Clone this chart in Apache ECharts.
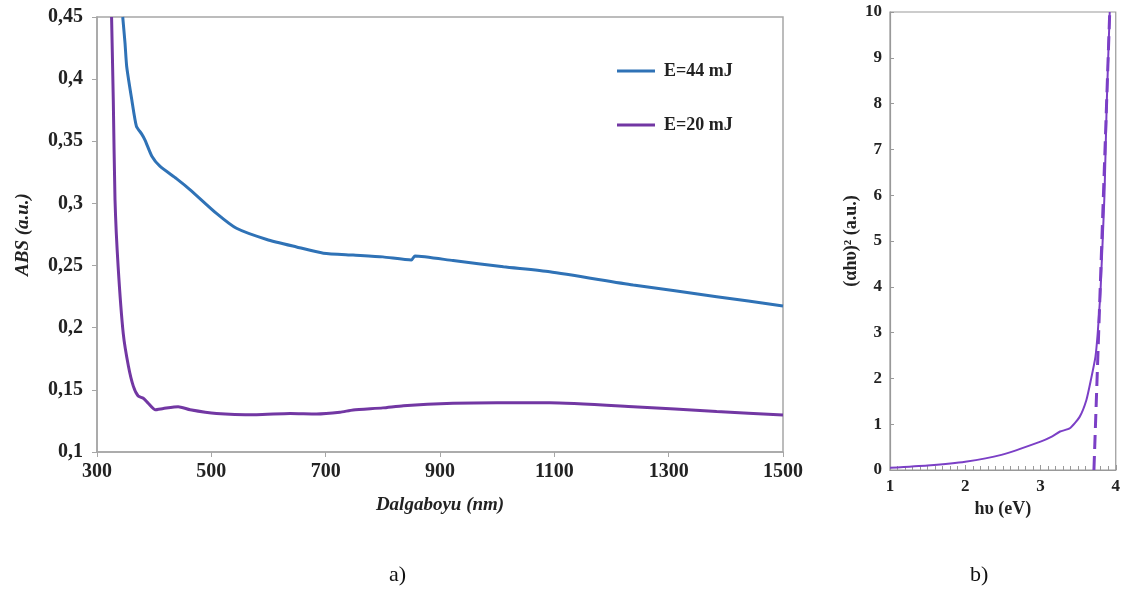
<!DOCTYPE html>
<html>
<head>
<meta charset="utf-8">
<script src="https://cdn.jsdelivr.net/npm/echarts@6/dist/echarts.min.js"></script>
<style>
  html, body { margin: 0; padding: 0; background: #fff; }
  #chart { width: 1123px; height: 594px; }
</style>
</head>
<body>
<div id="chart"></div>
<script>
// a) absorbance vs wavelength
const e44Nm = [345, 349, 352, 361, 369, 378, 384, 396, 410, 439, 463, 509, 544, 597, 649, 696, 748, 800, 850, 856, 923, 1011, 1092, 1238, 1384, 1500]
const e44Abs = [0.45, 0.429, 0.41, 0.383, 0.362, 0.356, 0.351, 0.338, 0.33, 0.32, 0.311, 0.292, 0.28, 0.271, 0.265, 0.26, 0.2585, 0.257, 0.2545, 0.2577, 0.254, 0.249, 0.245, 0.2344, 0.225, 0.2175]
const e20Nm = [325.5, 328.5, 331.5, 337, 346, 355, 363.5, 372, 381, 390, 401.5, 416, 442, 463, 509, 579, 638, 684, 725, 748, 800, 836, 923, 1000, 1092, 1238, 1384, 1500]
const e20Abs = [0.45, 0.383, 0.303, 0.249, 0.195, 0.169, 0.153, 0.145, 0.1433, 0.139, 0.134, 0.135, 0.1365, 0.134, 0.131, 0.13, 0.131, 0.1306, 0.132, 0.1338, 0.1355, 0.1373, 0.1392, 0.1397, 0.1397, 0.1365, 0.1325, 0.1298]
const seriesNames = ['E=44 mJ', 'E=20 mJ']

// b) Tauc plot
const hvEv = [1.0, 1.5, 2.0, 2.48, 3.0, 3.15, 3.26, 3.39, 3.52, 3.61, 3.67, 3.73, 3.76, 3.79, 3.8, 3.85, 3.88, 3.92]
const ahv2 = [0.05, 0.1, 0.18, 0.33, 0.62, 0.73, 0.84, 0.91, 1.16, 1.53, 1.97, 2.47, 2.98, 3.71, 4, 6, 8, 10]
const fitEv = [3.71, 3.92]
const fitVal = [0, 10]

const zip = (xs, ys) => xs.map((x, i) => [x, ys[i]])

const serif = '"Liberation Serif", "Times New Roman", serif'
const axisGray = '#a6a6a6'
const blue = '#2f72b6'
const purple = '#7237a3'
const violet = '#7b3fc6'

const myChart = echarts.init(document.getElementById('chart'))
const option = {
  animation: false,
  backgroundColor: '#fff',
  grid: [
    { left: 97, top: 17, width: 686, height: 435, show: true, borderColor: axisGray, borderWidth: 1.5 },
    { left: 890, top: 12, width: 230, height: 458, show: true, borderColor: '#999', borderWidth: 1.2 }
  ],
  legend: {
    orient: 'vertical',
    left: 612,
    top: 57,
    itemGap: 36,
    itemWidth: 38,
    itemHeight: 3,
    icon: 'rect',
    data: seriesNames,
    textStyle: { fontFamily: serif, fontWeight: 'bold', fontSize: 18, color: '#222', padding: [0, 0, 0, 4] }
  },
  xAxis: [
    {
      gridIndex: 0, type: 'value', min: 300, max: 1500, interval: 200,
      name: 'Dalgaboyu (nm)', nameLocation: 'middle', nameGap: 44,
      nameTextStyle: { fontFamily: serif, fontWeight: 'bold', fontStyle: 'italic', fontSize: 19, color: '#222' },
      axisLine: { lineStyle: { color: axisGray, width: 1.5 } },
      axisTick: { show: true, length: 5, lineStyle: { color: axisGray } },
      axisLabel: { margin: 10, fontFamily: serif, fontWeight: 'bold', fontSize: 20, color: '#222', formatter: (v) => String(v) },
      splitLine: { show: false }
    },
    {
      gridIndex: 1, type: 'value', min: 1, max: 4, interval: 1,
      name: 'hυ (eV)', nameLocation: 'middle', nameGap: 26,
      nameTextStyle: { fontFamily: serif, fontWeight: 'bold', fontSize: 18, color: '#222' },
      axisLine: { lineStyle: { color: '#999', width: 1.2 } },
      axisTick: { show: true, inside: true, length: 5, lineStyle: { color: '#999' } },
      minorTick: { show: true, splitNumber: 10, length: 4, lineStyle: { color: '#999' } },
      axisLabel: { margin: 8, fontFamily: serif, fontWeight: 'bold', fontSize: 17, color: '#222' },
      splitLine: { show: false }
    }
  ],
  yAxis: [
    {
      gridIndex: 0, type: 'value', min: 0.1, max: 0.45, interval: 0.05,
      name: 'ABS (a.u.)', nameLocation: 'middle', nameGap: 64,
      nameTextStyle: { fontFamily: serif, fontWeight: 'bold', fontStyle: 'italic', fontSize: 19, color: '#222' },
      axisLine: { show: true, lineStyle: { color: axisGray, width: 1.5 } },
      axisTick: { show: true, length: 5, lineStyle: { color: axisGray } },
      axisLabel: {
        margin: 14, fontFamily: serif, fontWeight: 'bold', fontSize: 20, color: '#222',
        formatter: (v) => String(+v.toFixed(2)).replace('.', ',')
      },
      splitLine: { show: false }
    },
    {
      gridIndex: 1, type: 'value', min: 0, max: 10, interval: 1,
      name: '(αhυ)² (a.u.)', nameLocation: 'middle', nameGap: 30,
      nameTextStyle: { fontFamily: serif, fontWeight: 'bold', fontSize: 18, color: '#222' },
      axisLine: { show: true, lineStyle: { color: '#999', width: 1.2 } },
      axisTick: { show: true, inside: true, length: 4, lineStyle: { color: '#999' } },
      axisLabel: { margin: 8, fontFamily: serif, fontWeight: 'bold', fontSize: 17, color: '#222' },
      splitLine: { show: false }
    }
  ],
  series: [
    {
      name: seriesNames[0], type: 'line', xAxisIndex: 0, yAxisIndex: 0,
      data: zip(e44Nm, e44Abs), showSymbol: false, smooth: 0.2,
      lineStyle: { color: blue, width: 3 }, itemStyle: { color: blue }
    },
    {
      name: seriesNames[1], type: 'line', xAxisIndex: 0, yAxisIndex: 0,
      data: zip(e20Nm, e20Abs), showSymbol: false, smooth: 0.2,
      lineStyle: { color: purple, width: 3 }, itemStyle: { color: purple }
    },
    {
      name: 'fit', type: 'line', xAxisIndex: 1, yAxisIndex: 1,
      data: zip(fitEv, fitVal), showSymbol: false,
      lineStyle: { color: violet, width: 3, type: [14, 7] }
    },
    {
      name: 'tauc', type: 'line', xAxisIndex: 1, yAxisIndex: 1,
      data: zip(hvEv, ahv2), showSymbol: false, smooth: 0.2,
      lineStyle: { color: violet, width: 2 }
    }
  ],
  graphic: [
    { type: 'text', left: 389, top: 564, style: { text: 'a)', font: '22px ' + serif, fill: '#111' } },
    { type: 'text', left: 970, top: 564, style: { text: 'b)', font: '22px ' + serif, fill: '#111' } }
  ]
}
myChart.setOption(option)
window.addEventListener('resize', () => {
  myChart.resize()
})
</script>
</body>
</html>
